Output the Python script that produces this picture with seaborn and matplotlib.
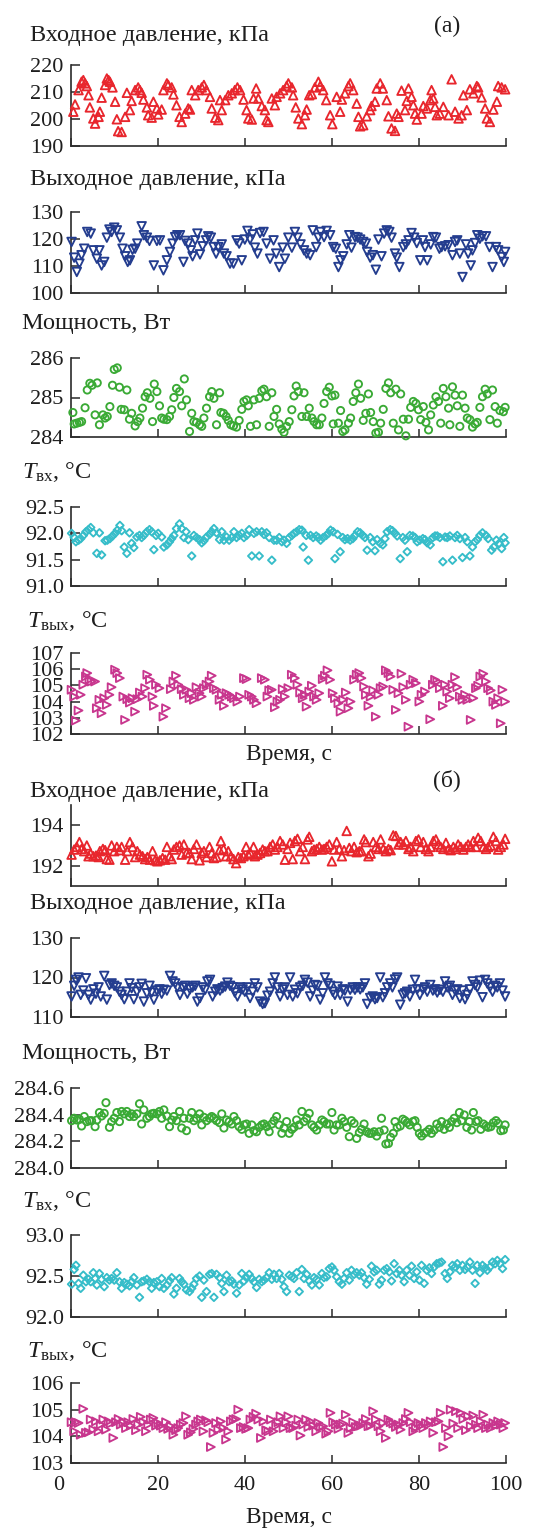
import numpy as np
import matplotlib
matplotlib.use('Agg')
import matplotlib.pyplot as plt
import matplotlib.transforms as mtrans
import seaborn as sns
import pandas as pd

sns.set_theme(style='ticks')
plt.rcParams['font.family'] = ['Liberation Serif', 'DejaVu Serif']
plt.rcParams['mathtext.fontset'] = 'custom'
plt.rcParams['mathtext.rm'] = 'Liberation Serif'
plt.rcParams['mathtext.it'] = 'Liberation Serif:italic'
plt.rcParams['mathtext.bf'] = 'Liberation Serif:bold'

# ---------------- data: (time, value) pairs ----------------
inlet_p_a = [0.6,202.7, 1.0,205.4, 1.8,210.7, 2.5,213.8, 2.9,214.4, 3.3,213.2, 3.7,212.2, 4.1,208.8, 4.4,204.3, 5.2,200.2, 5.6,198.3, 6.4,200.8, 6.7,202.7, 7.1,207.9, 7.9,212.6, 8.3,215.0, 8.7,214.4, 9.0,213.8, 9.6,211.7, 10.2,206.4, 10.6,199.9, 10.9,195.5, 11.7,195.2, 12.5,200.8, 12.9,209.7, 13.6,203.3, 14.0,206.7, 14.8,210.7, 15.5,211.7, 15.9,210.7, 16.3,209.7, 16.7,207.2, 17.5,204.3, 17.8,201.4, 18.6,200.5, 19.0,206.4, 19.8,203.9, 20.1,201.7, 20.9,203.5, 21.3,210.7, 22.1,213.2, 22.4,212.6, 23.2,211.7, 23.6,209.1, 24.3,205.1, 25.0,200.8, 25.5,198.9, 26.3,202.0, 27.0,203.9, 27.4,203.5, 27.8,210.7, 28.6,208.8, 29.3,210.7, 30.1,211.7, 30.6,212.6, 31.2,210.7, 32.0,208.2, 32.4,203.9, 33.2,200.5, 33.9,199.6, 34.3,207.0, 34.7,203.3, 35.5,207.0, 36.2,208.8, 37.0,209.5, 37.7,210.7, 38.3,211.7, 38.9,210.7, 39.7,207.2, 40.4,203.3, 40.8,200.2, 41.6,199.8, 42.0,207.6, 42.6,211.3, 43.1,207.6, 43.9,204.8, 44.6,203.3, 45.0,199.6, 45.4,198.9, 46.2,207.6, 46.9,205.1, 47.3,208.2, 48.1,209.5, 48.8,210.7, 49.6,212.2, 50.0,213.2, 50.8,211.7, 51.1,208.8, 51.7,204.3, 52.3,200.2, 53.1,198.1, 53.8,201.4, 54.2,203.5, 54.8,208.8, 55.4,209.2, 56.1,211.7, 56.9,213.8, 57.3,212.2, 58.0,210.7, 58.7,207.0, 59.6,201.4, 60.1,198.1, 61.1,208.2, 61.9,202.7, 62.3,207.2, 63.0,209.5, 63.8,212.2, 64.2,213.2, 64.9,210.7, 65.7,205.7, 66.1,200.8, 66.5,197.3, 67.2,197.7, 68.0,201.0, 68.8,203.3, 69.1,204.8, 69.9,206.4, 70.3,211.3, 71.1,213.2, 71.7,211.3, 72.6,207.0, 73.0,201.0, 73.7,196.5, 74.5,195.6, 74.9,202.0, 75.3,200.8, 76.0,210.5, 76.8,203.3, 77.2,206.7, 77.6,211.3, 78.3,208.2, 78.7,205.1, 79.1,202.0, 79.5,199.8, 80.6,202.0, 81.0,204.8, 81.8,203.9, 82.6,207.0, 82.9,210.7, 83.3,207.6, 83.7,204.5, 84.1,201.4, 84.8,202.0, 85.6,204.5, 86.8,201.4, 87.5,214.7, 88.3,202.7, 89.1,200.2, 89.8,201.4, 90.2,208.8, 91.0,203.3, 91.7,211.0, 92.5,209.5, 93.3,212.2, 93.6,211.7, 94.4,208.0, 95.2,203.9, 95.6,200.2, 96.3,198.9, 97.1,203.5, 97.9,206.4, 98.2,212.2, 99.0,211.7, 99.8,211.0]

outlet_p_a = [0.2,118.9, 0.8,113.1, 1.4,107.8, 2.0,110.9, 2.5,114.0, 3.1,116.4, 3.8,122.6, 4.6,122.0, 5.2,115.8, 6.0,112.7, 6.6,115.8, 7.1,110.2, 7.7,111.5, 8.3,120.5, 8.9,123.5, 9.4,122.6, 10.0,124.2, 10.6,123.2, 11.3,120.5, 11.9,116.4, 12.5,113.6, 13.1,111.5, 13.6,112.1, 14.2,116.0, 14.8,116.4, 15.3,118.3, 16.3,124.7, 16.8,121.4, 17.5,120.5, 18.1,119.3, 19.1,110.2, 19.8,119.3, 20.5,119.5, 21.3,108.4, 22.1,112.1, 22.8,115.2, 23.4,118.3, 24.0,120.7, 24.5,121.4, 25.1,121.4, 25.9,111.5, 26.3,119.3, 27.0,118.3, 27.6,115.8, 28.0,113.6, 28.6,119.5, 29.1,122.0, 29.7,114.3, 30.3,117.3, 31.1,119.5, 31.6,121.0, 32.2,120.5, 32.8,117.0, 33.4,114.6, 33.9,117.0, 34.7,118.0, 35.2,114.6, 35.8,113.6, 36.6,110.9, 37.4,110.9, 38.1,119.5, 38.7,118.3, 39.3,112.1, 40.0,119.8, 40.6,123.0, 41.2,119.8, 41.8,121.7, 42.3,116.8, 42.9,114.6, 43.5,122.2, 44.3,122.6, 45.0,118.3, 45.8,112.7, 46.6,119.5, 47.2,114.6, 47.9,109.6, 48.7,116.8, 49.2,112.7, 50.0,120.5, 50.8,116.8, 51.5,122.6, 52.1,120.5, 52.8,118.0, 53.6,115.8, 54.2,114.6, 55.0,114.0, 55.6,123.2, 56.4,117.0, 56.9,120.5, 57.4,122.6, 58.2,120.7, 58.8,123.0, 59.6,121.4, 60.3,117.0, 60.9,116.4, 61.5,109.6, 62.0,112.1, 62.6,113.6, 63.4,118.0, 64.0,121.4, 64.5,116.8, 65.3,120.7, 65.9,120.5, 66.5,119.8, 67.2,118.9, 67.8,118.3, 68.1,115.2, 68.8,113.1, 69.4,114.0, 70.1,108.6, 70.7,119.8, 71.4,113.6, 72.0,122.0, 72.6,123.2, 73.2,122.6, 73.7,120.5, 74.5,114.6, 74.9,113.1, 75.5,109.6, 76.4,117.0, 77.0,118.0, 77.6,119.5, 78.3,122.2, 78.9,120.5, 79.5,118.5, 80.3,112.1, 80.9,119.5, 81.4,117.0, 81.9,112.1, 82.7,118.0, 83.3,120.7, 83.9,120.5, 84.7,116.4, 85.2,117.0, 86.0,117.3, 86.8,117.7, 87.7,114.0, 88.3,118.9, 88.8,119.5, 89.4,114.6, 90.0,105.9, 90.8,118.0, 91.3,114.6, 91.9,110.2, 92.3,115.8, 92.9,118.5, 93.4,121.4, 94.0,120.1, 94.6,121.0, 95.4,121.0, 96.2,117.0, 96.9,109.6, 97.7,117.0, 98.2,115.8, 99.0,113.3, 99.5,111.5, 99.8,115.2]

power_a = [0.5,284.62, 0.8,284.33, 1.4,284.35, 2.0,284.37, 2.5,284.39, 3.3,284.74, 3.8,285.19, 4.4,285.36, 4.9,285.31, 5.6,284.56, 6.1,285.37, 6.6,284.31, 7.4,284.56, 7.9,284.48, 8.4,284.52, 9.0,284.77, 9.6,285.31, 10.0,285.71, 10.7,285.75, 11.2,285.26, 11.6,284.70, 12.3,284.69, 12.9,285.19, 13.5,284.45, 14.0,284.60, 14.8,284.28, 15.4,284.39, 15.9,284.48, 16.5,284.73, 17.1,285.02, 17.6,285.12, 18.2,284.98, 18.8,284.39, 19.2,285.34, 19.8,285.15, 20.4,284.79, 20.9,284.48, 21.4,284.45, 22.1,284.44, 22.7,284.52, 23.2,284.69, 23.7,285.00, 24.3,285.23, 25.0,285.15, 25.5,284.79, 26.1,285.47, 26.6,284.94, 27.3,284.14, 27.8,284.60, 28.3,284.39, 28.9,284.37, 29.6,284.31, 30.1,284.27, 30.6,284.48, 31.2,284.73, 31.9,285.02, 32.4,285.15, 32.9,284.98, 33.5,284.31, 34.2,285.12, 34.5,284.62, 35.1,284.60, 35.7,284.52, 36.2,284.42, 36.8,284.31, 37.4,284.28, 38.1,284.25, 38.7,284.42, 39.3,284.70, 39.8,284.90, 40.4,284.94, 40.8,284.79, 41.3,284.27, 42.1,284.94, 42.7,284.31, 43.3,284.98, 43.9,285.17, 44.4,285.21, 45.0,285.02, 45.6,284.27, 46.2,285.12, 46.7,284.52, 47.3,284.70, 47.9,284.33, 48.5,284.20, 49.0,284.12, 49.6,284.27, 50.2,284.39, 50.8,284.69, 51.3,285.04, 51.8,285.29, 52.3,285.15, 53.1,284.52, 53.6,285.12, 54.2,284.52, 54.8,284.73, 55.4,284.48, 55.9,284.39, 56.5,284.31, 57.1,284.31, 57.7,284.48, 58.2,284.85, 58.8,285.15, 59.4,285.26, 60.0,285.04, 60.3,284.33, 60.7,285.06, 61.5,284.35, 62.0,284.67, 62.5,284.14, 63.0,284.18, 63.8,284.35, 64.3,284.48, 64.9,284.90, 65.5,285.12, 66.1,285.34, 66.6,284.98, 67.2,284.42, 67.8,284.60, 68.4,285.09, 68.9,284.62, 69.5,284.39, 70.1,284.10, 70.7,284.12, 71.2,284.35, 71.8,284.70, 72.4,285.23, 73.0,285.37, 73.5,285.12, 74.1,284.35, 74.7,285.21, 75.3,284.18, 75.8,285.09, 76.4,284.45, 77.0,284.03, 77.6,284.45, 78.1,284.75, 78.7,284.90, 79.3,284.85, 79.9,284.69, 80.4,284.44, 81.0,284.77, 81.6,284.37, 82.2,284.18, 82.7,284.56, 83.3,284.81, 83.9,285.02, 84.5,284.90, 85.0,284.35, 85.6,285.23, 86.2,285.02, 86.8,284.73, 87.1,284.31, 87.7,285.27, 88.3,285.06, 88.8,284.79, 89.4,284.27, 90.0,285.06, 90.6,284.73, 91.1,284.48, 91.7,284.44, 92.3,284.25, 92.9,284.33, 93.4,284.37, 94.0,284.75, 94.6,285.02, 95.2,285.21, 95.7,285.09, 96.3,284.44, 96.9,285.19, 97.5,284.77, 98.0,284.35, 98.6,284.67, 99.4,284.64, 99.8,284.75]

t_in_a = [0.2,92.00, 0.8,91.92, 1.2,91.84, 1.8,91.87, 2.3,91.90, 2.9,91.96, 3.5,92.03, 4.1,92.07, 4.6,92.11, 5.2,92.01, 6.0,91.62, 6.6,92.01, 7.1,91.59, 7.9,91.86, 8.4,91.87, 9.0,91.90, 9.6,91.95, 10.2,92.00, 10.7,92.06, 11.3,92.15, 11.7,92.05, 12.3,91.74, 12.9,91.62, 13.5,92.01, 14.0,91.81, 14.5,91.73, 15.2,91.93, 15.8,91.96, 16.3,91.92, 16.8,91.96, 17.5,92.03, 18.1,92.07, 18.6,92.03, 19.1,91.69, 19.6,91.96, 20.1,92.00, 20.9,91.93, 21.4,91.74, 22.1,91.78, 22.7,91.84, 23.2,91.90, 23.7,91.96, 24.3,92.09, 25.0,92.18, 25.5,92.09, 26.0,91.92, 26.5,92.03, 27.0,91.88, 27.8,91.57, 28.3,91.96, 28.9,91.92, 29.6,91.88, 30.1,91.82, 30.6,91.86, 31.2,91.93, 31.9,91.98, 32.4,92.03, 32.9,92.09, 33.5,92.01, 34.2,91.88, 34.7,92.03, 35.2,91.87, 35.8,91.93, 36.4,91.87, 37.0,91.92, 37.5,92.03, 38.1,91.92, 38.7,91.96, 39.3,92.00, 39.8,91.92, 40.4,91.96, 41.0,92.07, 41.6,91.57, 42.1,92.00, 42.7,92.03, 43.3,91.57, 43.9,92.03, 44.4,91.98, 45.0,92.01, 45.6,91.92, 46.2,91.49, 46.7,91.87, 47.3,91.87, 47.9,91.92, 48.5,91.84, 49.0,91.87, 49.6,91.81, 50.2,91.92, 50.8,91.96, 51.3,92.00, 51.9,92.03, 52.5,92.07, 53.1,92.06, 53.4,91.74, 54.1,91.96, 54.6,91.49, 55.1,91.96, 55.7,91.92, 56.4,91.95, 56.9,91.92, 57.4,91.87, 58.0,91.92, 58.7,91.96, 59.2,92.00, 59.7,92.06, 60.3,92.03, 60.7,91.52, 61.3,91.98, 61.9,91.65, 62.5,91.92, 63.0,91.88, 63.6,91.90, 64.2,91.87, 64.8,91.90, 65.3,91.96, 65.9,92.03, 66.5,92.01, 67.1,91.96, 67.6,91.92, 68.1,91.68, 68.8,91.92, 69.4,91.84, 69.9,91.67, 70.4,91.88, 71.1,91.81, 71.7,91.78, 72.2,91.90, 72.7,92.03, 73.4,92.07, 73.9,92.05, 74.5,92.00, 75.0,91.95, 75.7,91.52, 76.3,91.92, 76.8,91.87, 77.3,91.65, 77.9,91.96, 78.6,91.95, 79.1,91.92, 79.6,91.84, 80.2,91.87, 80.9,91.90, 81.4,91.88, 81.9,91.82, 82.6,91.78, 83.2,91.92, 83.7,91.95, 84.2,91.95, 84.8,91.92, 85.5,91.46, 86.0,91.93, 86.5,91.92, 87.1,91.95, 87.7,91.49, 88.3,91.92, 88.8,91.96, 89.4,91.90, 90.0,91.54, 90.6,91.92, 91.1,91.84, 91.7,91.57, 92.3,91.74, 92.9,91.84, 93.4,91.88, 94.0,91.96, 94.6,92.01, 95.4,91.96, 95.9,91.90, 96.7,91.68, 97.2,91.74, 97.8,91.87, 98.4,91.81, 99.0,91.71, 99.5,91.92, 99.8,91.82]

t_out_a = [0.2,104.73, 0.8,104.31, 1.2,102.83, 1.8,103.45, 2.3,104.42, 2.9,105.04, 3.5,105.55, 3.8,105.76, 4.3,105.35, 4.8,105.24, 5.6,105.24, 6.0,103.59, 6.6,104.11, 7.1,103.28, 7.7,104.21, 8.3,103.80, 8.9,104.42, 9.4,104.89, 10.2,105.97, 10.7,105.76, 11.3,105.45, 12.1,104.31, 12.5,102.87, 13.0,104.15, 13.6,103.94, 14.2,104.21, 14.8,103.38, 15.3,104.15, 15.9,104.56, 16.5,104.31, 17.1,104.83, 17.6,105.66, 18.2,105.35, 18.8,104.31, 19.1,103.74, 19.6,105.04, 20.4,104.83, 21.3,103.07, 21.9,103.59, 23.0,104.77, 23.6,105.24, 24.2,105.60, 24.7,105.04, 25.5,104.77, 26.0,104.42, 26.6,104.73, 27.3,104.21, 27.8,104.52, 28.3,104.11, 28.9,104.89, 29.6,104.52, 30.1,104.31, 30.6,104.83, 31.2,105.04, 31.9,105.24, 32.4,105.60, 32.9,104.83, 33.5,104.73, 34.2,104.11, 34.7,104.42, 35.2,103.74, 35.8,104.52, 36.4,104.42, 37.0,104.31, 37.5,104.21, 38.3,104.00, 38.9,104.31, 39.8,105.45, 40.4,105.39, 41.0,104.42, 41.6,104.31, 42.1,104.11, 42.7,103.90, 43.9,105.45, 44.6,105.35, 45.2,104.31, 45.6,104.69, 46.2,104.73, 46.9,103.65, 47.5,104.00, 48.1,104.11, 48.7,104.77, 49.2,104.31, 50.0,104.83, 50.8,105.66, 51.5,105.45, 52.1,105.04, 52.7,104.56, 53.3,104.21, 53.8,104.42, 54.2,103.69, 54.8,104.62, 55.4,104.98, 55.9,104.31, 56.5,104.11, 57.1,104.52, 57.9,105.39, 58.4,105.60, 59.0,105.93, 59.6,105.35, 60.2,104.52, 60.7,104.21, 61.5,103.90, 62.0,103.38, 62.6,104.11, 63.2,104.56, 63.8,103.59, 64.3,104.00, 65.1,105.35, 65.7,105.66, 66.3,105.76, 66.8,105.45, 67.4,104.93, 67.8,104.42, 68.4,103.74, 68.9,104.31, 69.5,104.69, 70.1,103.07, 70.7,104.42, 71.2,104.83, 71.8,104.93, 72.4,105.93, 73.0,105.76, 73.5,105.55, 74.1,104.73, 74.7,103.49, 75.3,104.52, 76.0,105.72, 76.4,104.89, 77.0,104.11, 77.6,102.45, 78.1,105.04, 78.7,105.35, 79.3,105.14, 80.1,104.00, 80.6,104.42, 81.4,104.62, 82.6,102.91, 83.2,105.04, 83.7,105.35, 84.2,105.24, 84.8,104.83, 85.5,103.74, 86.0,105.04, 86.5,104.62, 87.1,104.21, 87.7,105.04, 88.3,105.51, 88.8,104.89, 89.4,104.31, 90.0,104.11, 90.6,104.42, 91.1,104.11, 91.9,102.87, 92.5,104.21, 93.1,104.83, 93.6,104.98, 94.1,105.55, 94.8,105.72, 95.4,105.24, 95.9,104.83, 96.5,104.69, 97.1,104.00, 97.7,103.80, 98.2,104.21, 98.8,102.66, 99.2,104.73, 99.8,104.00]

inlet_p_b = [0.2,192.55, 0.8,192.80, 1.4,192.93, 2.0,193.17, 2.5,192.83, 3.1,192.72, 3.7,193.00, 4.1,192.47, 4.6,192.60, 5.2,192.47, 5.8,192.50, 6.4,192.43, 6.7,192.72, 7.4,192.83, 7.9,192.77, 8.3,192.33, 8.9,192.30, 9.4,193.00, 10.0,192.72, 10.6,192.93, 11.2,192.77, 11.7,192.93, 12.5,192.30, 13.0,192.72, 13.6,193.17, 14.2,192.93, 14.8,192.43, 15.3,192.72, 15.9,192.55, 16.5,192.47, 17.1,192.33, 17.6,192.43, 18.2,192.30, 18.8,192.72, 19.4,192.27, 19.9,192.22, 20.5,192.27, 21.1,192.38, 21.7,192.30, 22.1,192.93, 22.7,192.47, 23.2,192.33, 23.7,192.80, 24.3,192.93, 25.0,193.00, 25.5,192.55, 26.0,193.05, 26.6,192.63, 27.3,192.63, 27.8,192.33, 28.3,192.83, 28.9,193.05, 29.6,192.27, 30.1,192.63, 30.6,192.72, 31.2,192.43, 31.9,192.93, 32.4,192.63, 32.9,192.38, 33.5,192.43, 34.2,192.77, 34.5,193.22, 35.1,192.83, 35.7,192.47, 36.2,192.72, 36.8,192.47, 37.4,192.33, 38.0,192.13, 38.5,192.43, 39.1,192.38, 39.7,192.47, 40.3,192.93, 40.8,192.55, 41.3,192.63, 42.0,192.93, 42.3,192.47, 42.9,192.55, 43.5,192.63, 44.1,192.80, 44.6,192.72, 45.2,192.72, 45.8,192.93, 46.4,193.05, 46.9,192.80, 47.5,192.93, 48.1,193.22, 48.7,193.05, 49.2,192.30, 49.8,192.83, 50.4,193.13, 51.0,192.33, 51.5,193.22, 52.1,193.33, 52.7,192.72, 53.3,192.93, 53.8,192.33, 54.4,193.30, 54.8,193.43, 55.4,192.72, 55.9,192.80, 56.5,192.83, 57.1,192.93, 57.7,192.80, 58.2,192.83, 58.8,192.93, 59.4,193.05, 60.0,192.22, 60.5,192.80, 61.1,193.17, 61.7,192.83, 62.3,192.47, 62.8,192.77, 63.4,193.72, 64.0,192.88, 64.5,192.72, 65.1,192.93, 65.7,192.67, 66.3,192.72, 66.8,192.72, 67.4,193.30, 67.8,193.17, 68.4,192.47, 68.9,192.60, 69.5,193.17, 70.1,192.93, 70.7,192.83, 71.2,193.30, 71.8,192.83, 72.4,192.72, 73.0,192.83, 73.5,192.77, 74.1,193.50, 74.7,193.47, 75.3,193.05, 75.8,193.17, 76.4,193.05, 77.0,193.22, 77.6,192.83, 78.1,192.93, 78.7,192.72, 79.3,193.22, 79.9,193.30, 80.4,192.93, 81.0,193.17, 81.6,192.83, 82.2,192.72, 82.7,192.93, 83.3,193.22, 83.9,193.30, 84.5,193.05, 85.0,192.93, 85.6,192.83, 86.2,193.13, 86.8,192.83, 87.3,192.77, 87.9,192.93, 88.5,192.83, 89.0,193.05, 89.6,192.93, 90.2,192.80, 90.8,192.93, 91.3,193.05, 91.9,192.93, 92.5,193.22, 93.1,192.93, 93.6,193.38, 94.2,193.22, 94.8,192.93, 95.4,192.83, 95.9,192.93, 96.5,193.00, 97.1,193.43, 97.7,193.22, 98.2,192.80, 98.8,192.93, 99.4,193.05, 99.8,193.33]

outlet_p_b = [0.2,115.2, 0.8,117.9, 1.2,119.4, 1.8,120.0, 2.3,115.6, 2.9,116.7, 3.5,119.8, 4.1,115.6, 4.6,114.4, 5.2,117.0, 5.8,115.9, 6.4,117.5, 6.9,115.2, 7.7,120.4, 8.3,114.4, 8.9,118.1, 9.4,118.5, 10.0,117.9, 10.6,117.5, 11.2,116.4, 11.7,115.6, 12.3,114.5, 12.9,116.4, 13.5,118.5, 14.0,117.3, 14.5,114.5, 15.2,116.4, 15.8,117.5, 16.3,118.4, 16.8,113.9, 17.5,116.0, 18.1,117.9, 18.6,116.2, 19.1,114.4, 19.8,116.7, 20.4,117.0, 20.9,115.9, 21.4,116.9, 22.1,116.7, 22.8,120.4, 23.4,119.0, 24.0,118.5, 24.5,117.5, 25.1,115.6, 25.7,117.5, 26.3,117.9, 26.8,115.9, 27.4,117.0, 28.0,117.5, 28.6,117.9, 29.1,113.9, 29.7,114.8, 30.3,117.5, 30.9,116.9, 31.4,119.0, 32.0,119.4, 32.6,115.2, 33.2,116.4, 33.7,117.0, 34.3,116.7, 34.9,117.3, 35.5,117.7, 36.0,118.7, 36.6,117.9, 37.2,117.5, 37.7,116.2, 38.3,115.2, 38.9,117.5, 39.5,117.0, 40.0,116.4, 40.6,117.5, 41.2,114.8, 41.8,116.4, 42.3,118.5, 42.9,117.5, 43.5,113.9, 44.1,113.3, 44.6,113.5, 45.2,115.4, 45.8,116.4, 46.4,118.5, 46.9,120.0, 47.5,117.5, 48.1,115.2, 48.7,117.0, 49.2,117.5, 49.8,115.6, 50.4,120.0, 51.0,115.2, 51.5,116.9, 52.1,116.0, 52.7,117.5, 53.3,117.9, 53.8,119.4, 54.4,118.7, 55.0,115.2, 55.6,116.7, 56.1,118.1, 56.7,117.9, 57.3,114.4, 57.9,116.0, 58.4,120.0, 59.0,118.5, 59.6,117.9, 60.2,116.4, 60.7,115.6, 61.3,117.7, 61.9,115.6, 62.5,117.0, 63.0,116.7, 63.6,113.9, 64.2,116.9, 64.8,117.5, 65.3,116.9, 65.9,117.5, 66.5,117.0, 67.1,117.5, 67.6,118.5, 68.1,113.3, 68.8,114.8, 69.4,115.2, 69.9,114.5, 70.4,114.8, 71.1,120.0, 71.7,115.0, 72.2,116.0, 72.7,117.5, 73.4,118.5, 73.9,117.5, 74.5,119.5, 75.0,120.0, 75.7,113.1, 76.3,115.6, 76.8,116.0, 77.3,116.4, 77.9,115.2, 78.6,116.9, 79.1,119.4, 79.6,117.0, 80.2,115.6, 80.9,117.0, 81.4,117.5, 81.9,116.4, 82.6,118.1, 83.2,116.7, 83.7,117.0, 84.2,116.2, 84.8,116.9, 85.5,116.4, 86.0,119.0, 86.5,117.5, 87.1,117.9, 87.7,115.6, 88.3,116.7, 88.8,117.0, 89.4,114.8, 90.0,116.7, 90.6,114.5, 91.1,115.6, 91.7,117.0, 92.3,119.0, 92.9,118.1, 93.4,117.5, 94.0,119.2, 94.6,115.0, 95.2,119.4, 95.7,118.5, 96.3,117.5, 96.9,116.4, 97.5,117.9, 98.0,117.5, 98.6,118.5, 99.2,116.7, 99.8,115.2]

power_b = [0.2,284.355, 0.8,284.373, 1.4,284.360, 2.0,284.366, 2.5,284.315, 3.1,284.386, 3.7,284.348, 4.3,284.355, 4.8,284.355, 5.6,284.310, 6.0,284.360, 6.6,284.416, 7.1,284.390, 7.7,284.410, 8.1,284.490, 8.9,284.305, 9.4,284.348, 10.0,284.373, 10.6,284.416, 11.2,284.348, 11.7,284.424, 12.3,284.406, 12.9,284.424, 13.5,284.386, 14.0,284.406, 14.5,284.386, 15.2,284.406, 15.8,284.482, 16.3,284.330, 16.8,284.436, 17.5,284.373, 18.1,284.386, 18.6,284.406, 19.1,284.410, 19.8,284.406, 20.4,284.424, 20.9,284.373, 21.4,284.436, 22.1,284.390, 22.7,284.310, 23.2,284.360, 23.7,284.386, 24.3,284.355, 25.0,284.424, 25.5,284.300, 26.0,284.373, 26.6,284.280, 27.3,284.373, 27.8,284.416, 28.3,284.355, 28.9,284.373, 29.6,284.406, 30.1,284.323, 30.6,284.380, 31.2,284.355, 31.9,284.373, 32.4,284.386, 32.9,284.373, 33.5,284.355, 34.2,284.340, 34.7,284.406, 35.2,284.300, 35.8,284.360, 36.4,284.348, 37.0,284.330, 37.5,284.386, 38.1,284.355, 38.7,284.310, 39.3,284.290, 39.8,284.323, 40.4,284.330, 41.0,284.260, 41.6,284.323, 42.1,284.280, 42.7,284.272, 43.3,284.305, 43.9,284.323, 44.4,284.330, 45.0,284.310, 45.6,284.272, 46.2,284.330, 46.7,284.355, 47.3,284.386, 47.9,284.323, 48.5,284.260, 49.0,284.300, 49.6,284.348, 50.2,284.260, 50.8,284.290, 51.3,284.305, 51.9,284.360, 52.5,284.323, 53.1,284.424, 53.6,284.348, 54.2,284.373, 54.8,284.410, 55.4,284.323, 55.9,284.305, 56.5,284.285, 57.1,284.323, 57.7,284.360, 58.2,284.348, 58.8,284.330, 59.4,284.330, 60.0,284.416, 60.5,284.285, 61.1,284.323, 61.7,284.323, 62.3,284.373, 62.8,284.348, 63.4,284.305, 64.0,284.235, 64.5,284.355, 65.1,284.335, 65.7,284.222, 66.3,284.265, 66.8,284.290, 67.4,284.330, 68.0,284.272, 68.6,284.260, 69.1,284.260, 69.7,284.272, 70.3,284.240, 70.9,284.272, 71.4,284.373, 72.0,284.285, 72.4,284.180, 73.0,284.184, 73.5,284.230, 74.1,284.260, 74.5,284.348, 75.0,284.305, 75.7,284.315, 76.3,284.366, 76.8,284.355, 77.3,284.340, 77.9,284.323, 78.6,284.348, 79.1,284.355, 79.6,284.305, 80.1,284.260, 80.6,284.240, 81.2,284.260, 81.8,284.272, 82.4,284.290, 82.9,284.260, 83.5,284.285, 84.1,284.330, 84.7,284.305, 85.2,284.348, 85.8,284.290, 86.4,284.330, 87.0,284.305, 87.5,284.348, 88.1,284.373, 88.7,284.340, 89.3,284.416, 89.8,284.355, 90.4,284.398, 91.0,284.305, 91.6,284.348, 92.1,284.285, 92.5,284.416, 93.1,284.348, 93.6,284.355, 94.2,284.290, 94.8,284.330, 95.4,284.315, 95.9,284.305, 96.5,284.310, 97.1,284.340, 97.7,284.355, 98.2,284.335, 98.8,284.280, 99.4,284.285, 99.8,284.323]

t_in_b = [0.2,92.40, 0.8,92.58, 1.2,92.63, 1.8,92.41, 2.3,92.35, 2.9,92.51, 3.5,92.43, 4.1,92.46, 4.6,92.43, 5.2,92.54, 5.6,92.47, 6.0,92.39, 6.6,92.53, 7.1,92.46, 7.7,92.37, 8.3,92.48, 8.9,92.45, 9.4,92.47, 10.0,92.45, 10.6,92.54, 11.2,92.43, 11.7,92.35, 12.3,92.42, 12.9,92.40, 13.5,92.38, 14.0,92.43, 14.5,92.48, 15.2,92.39, 15.8,92.24, 16.3,92.43, 16.8,92.44, 17.5,92.46, 18.1,92.43, 18.6,92.35, 19.1,92.42, 19.8,92.43, 20.4,92.37, 20.9,92.47, 21.4,92.35, 22.1,92.39, 22.7,92.44, 23.2,92.48, 23.7,92.28, 24.3,92.35, 25.0,92.47, 25.5,92.43, 26.0,92.40, 26.6,92.33, 27.3,92.31, 27.8,92.35, 28.3,92.40, 28.9,92.47, 29.6,92.50, 30.1,92.24, 30.6,92.45, 31.2,92.31, 31.9,92.52, 32.4,92.53, 32.9,92.24, 33.5,92.52, 34.2,92.48, 34.7,92.41, 35.2,92.31, 35.8,92.51, 36.4,92.43, 37.0,92.44, 37.5,92.40, 38.1,92.29, 38.7,92.39, 39.3,92.53, 39.8,92.44, 40.4,92.48, 41.0,92.52, 41.6,92.47, 42.1,92.43, 42.7,92.36, 43.3,92.46, 43.9,92.43, 44.4,92.45, 45.0,92.48, 45.6,92.54, 46.2,92.46, 46.7,92.52, 47.3,92.47, 47.9,92.53, 48.5,92.46, 49.0,92.37, 49.6,92.31, 50.2,92.51, 50.8,92.49, 51.3,92.47, 51.9,92.54, 52.5,92.31, 53.1,92.58, 53.6,92.47, 54.2,92.52, 54.8,92.44, 55.4,92.39, 55.9,92.48, 56.5,92.46, 57.1,92.39, 57.7,92.53, 58.2,92.48, 58.8,92.49, 59.4,92.59, 60.0,92.61, 60.5,92.57, 61.1,92.49, 61.7,92.43, 62.3,92.40, 62.8,92.47, 63.4,92.54, 64.0,92.45, 64.5,92.57, 65.1,92.52, 65.7,92.54, 66.3,92.51, 66.8,92.54, 67.4,92.48, 68.0,92.40, 68.6,92.46, 69.1,92.62, 69.7,92.55, 70.3,92.57, 70.9,92.40, 71.4,92.45, 72.0,92.57, 72.6,92.59, 73.2,92.55, 73.7,92.44, 74.3,92.65, 74.9,92.53, 75.5,92.57, 76.0,92.51, 76.6,92.43, 77.2,92.57, 77.8,92.51, 78.3,92.62, 78.9,92.47, 79.5,92.55, 80.1,92.45, 80.6,92.63, 81.2,92.41, 81.8,92.57, 82.4,92.60, 82.9,92.53, 83.5,92.61, 84.1,92.65, 84.7,92.66, 85.2,92.67, 86.0,92.53, 86.5,92.47, 87.1,92.55, 87.7,92.63, 88.3,92.61, 88.8,92.65, 89.4,92.57, 90.0,92.63, 90.6,92.58, 91.1,92.61, 91.7,92.67, 92.3,92.57, 92.9,92.41, 93.4,92.63, 94.0,92.54, 94.6,92.63, 95.2,92.60, 95.7,92.57, 96.3,92.61, 96.9,92.67, 97.5,92.65, 98.0,92.69, 98.6,92.65, 99.2,92.59, 99.8,92.70]

t_out_b = [0.2,104.53, 0.8,104.19, 1.2,104.53, 1.8,104.50, 2.3,104.06, 2.9,105.03, 3.5,104.13, 4.1,104.15, 4.6,104.63, 5.2,104.25, 5.8,104.56, 6.4,104.19, 6.9,104.44, 7.5,104.63, 8.1,104.25, 8.7,104.56, 9.2,104.48, 9.8,103.94, 10.4,104.53, 11.0,104.65, 11.5,104.44, 12.1,104.53, 12.7,104.31, 13.2,104.53, 13.8,104.40, 14.4,104.65, 15.0,104.23, 15.5,104.44, 16.1,104.73, 16.7,104.53, 17.3,104.19, 17.8,104.44, 18.4,104.63, 19.0,104.69, 19.6,104.40, 20.1,104.50, 20.7,104.40, 21.3,104.31, 21.9,104.53, 22.4,104.28, 23.0,104.38, 23.6,104.06, 24.2,104.23, 24.7,104.31, 25.3,104.44, 25.9,104.50, 26.5,104.75, 27.0,104.06, 27.6,104.15, 28.2,104.28, 28.8,104.44, 29.3,104.56, 29.9,104.63, 30.5,104.19, 31.1,104.60, 31.6,104.53, 32.2,103.60, 32.8,104.13, 33.4,104.50, 33.9,104.25, 34.5,104.56, 35.1,104.31, 35.7,103.88, 36.2,104.19, 36.8,104.56, 37.4,104.63, 38.0,104.65, 38.5,105.00, 39.1,104.31, 39.7,104.35, 40.3,104.28, 40.8,104.31, 41.3,104.63, 42.0,104.73, 42.6,104.85, 43.1,104.63, 43.7,103.94, 44.3,104.56, 44.9,104.23, 45.4,104.19, 46.0,104.63, 46.6,104.19, 47.2,104.40, 47.7,104.53, 48.2,104.75, 48.9,104.31, 49.5,104.53, 50.0,104.75, 50.5,104.31, 51.1,104.31, 51.8,104.40, 52.3,104.63, 52.8,104.03, 53.4,104.44, 54.1,104.63, 54.6,104.35, 55.1,104.56, 55.7,104.40, 56.4,104.19, 56.9,104.50, 57.4,104.35, 58.0,104.38, 58.7,104.10, 59.2,104.19, 59.7,104.88, 60.3,104.53, 60.9,104.44, 61.5,104.28, 62.0,104.44, 62.6,104.48, 63.2,104.81, 63.8,104.13, 64.3,104.31, 64.9,104.53, 65.5,104.35, 66.1,104.38, 66.6,104.40, 67.2,104.50, 67.8,104.65, 68.4,104.38, 68.9,104.40, 69.5,104.94, 70.1,104.63, 70.7,104.38, 71.2,104.19, 71.8,104.50, 72.4,103.94, 73.0,104.63, 73.5,104.53, 74.1,104.48, 74.7,104.35, 75.3,104.44, 75.8,104.25, 76.4,104.50, 77.0,104.65, 77.6,104.88, 78.1,104.53, 78.7,104.19, 79.3,104.31, 79.9,104.50, 80.4,104.40, 81.0,104.31, 81.6,104.50, 82.2,104.44, 82.7,104.56, 83.3,104.13, 83.9,104.53, 84.5,104.56, 85.0,104.88, 85.6,103.60, 86.2,104.31, 86.8,104.00, 87.3,105.00, 87.9,104.48, 88.5,104.94, 89.0,104.31, 89.6,104.88, 90.2,104.65, 90.8,104.23, 91.3,104.75, 91.9,104.38, 92.5,104.78, 93.1,104.44, 93.6,104.31, 94.2,104.56, 94.8,104.81, 95.4,104.31, 95.9,104.44, 96.5,104.31, 97.1,104.50, 97.7,104.40, 98.2,104.56, 98.8,104.44, 99.4,104.31, 99.8,104.50]

x_ticks = [0, 20, 40, 60, 80, 100]
titles = ['Входное давление, кПа', 'Выходное давление, кПа', 'Мощность, Вт',
          r'$T_{\mathrm{вх}}$, °C', r'$T_{\mathrm{вых}}$, °C']
time_label = 'Время, с'

# ---------------- style ----------------
RED, BLUE, GREEN, CYAN, MAG = '#e8262d', '#243d8f', '#3aaa35', '#36bdc9', '#c8368e'
W, H = 543, 1532
fig = plt.figure(figsize=(W / 100, H / 100), dpi=100)

def fx(px):
    return px / W

def fy(px):
    return 1 - px / H

LEFT, RIGHT = 70.7, 506.0
panels = [
    # data, marker, colour, size, ylim, yticks, fmt, (top, bottom) px, title idx, title y px, title x px
    (inlet_p_a, '^', RED, 38, (190, 220), [190, 200, 210, 220], '{:.0f}', (65, 146), 0, 36, 30),
    (outlet_p_a, 'v', BLUE, 38, (100, 130), [100, 110, 120, 130], '{:.0f}', (212, 293), 1, 180, 30),
    (power_a, 'o', GREEN, 27, (284, 286), [284, 285, 286], '{:.0f}', (358, 437), 2, 324, 22),
    (t_in_a, 'D', CYAN, 15, (91.0, 92.5), [91.0, 91.5, 92.0, 92.5], '{:.1f}', (507, 586), 3, 472, 22),
    (t_out_a, '>', MAG, 32, (102, 107), [102, 103, 104, 105, 106, 107], '{:.0f}', (653, 734), 4, 621, 27),
    (inlet_p_b, '^', RED, 38, (191, 195), [192, 194], '{:.0f}', (805, 886), 0, 792, 30),
    (outlet_p_b, 'v', BLUE, 38, (110, 130), [110, 120, 130], '{:.0f}', (938, 1017), 1, 903, 30),
    (power_b, 'o', GREEN, 27, (284.0, 284.6), [284.0, 284.2, 284.4, 284.6], '{:.1f}', (1088, 1168), 2, 1054, 22),
    (t_in_b, 'D', CYAN, 15, (92.0, 93.0), [92.0, 92.5, 93.0], '{:.1f}', (1235, 1317), 3, 1201, 22),
    (t_out_b, '>', MAG, 32, (103, 106), [103, 104, 105, 106], '{:.0f}', (1383, 1463), 4, 1351, 27),
]

SPINE = '#2a2a2a'
TXT = '#1e1e1e'
for i, (data, mk, col, s, ylim, yt, fmt, (top, bot), ti, ty, tx) in enumerate(panels):
    arr = np.asarray(data, dtype=float).reshape(-1, 2)
    df = pd.DataFrame({'t': arr[:, 0], 'v': arr[:, 1]})
    ax = fig.add_axes([fx(LEFT), fy(bot), fx(RIGHT) - fx(LEFT), (bot - top) / H])
    sns.scatterplot(data=df, x='t', y='v', ax=ax, marker=mk, s=s, color=col,
                    facecolor='none', edgecolor=col, linewidth=1.35, clip_on=False, zorder=3)
    ax.set_xlim(0, 100)
    ax.set_ylim(*ylim)
    ax.set_xticks(x_ticks)
    ax.set_yticks(yt)
    ax.set_yticklabels([fmt.format(v) for v in yt])
    ax.set_xlabel('')
    ax.set_ylabel('')
    for side in ('top', 'right'):
        ax.spines[side].set_visible(False)
    for side in ('left', 'bottom'):
        ax.spines[side].set_color(SPINE)
        ax.spines[side].set_linewidth(1.2)
    ax.tick_params(axis='y', direction='in', length=6.5, width=1.1, pad=5,
                   labelsize=16, color=SPINE, labelcolor=TXT)
    ax.tick_params(axis='x', direction='in', length=5.5, width=1.1, pad=9,
                   labelsize=16, color=SPINE, labelcolor=TXT)
    if i < 9:
        ax.set_xticklabels([])
    else:
        ax.set_xticklabels([str(v) for v in x_ticks])
        lab0 = ax.xaxis.get_major_ticks()[0].label1
        lab0.set_transform(lab0.get_transform() +
                           mtrans.ScaledTranslation(-12 / 100, 0, fig.dpi_scale_trans))
    fig.text(fx(tx), fy(ty), titles[ti], ha='left', va='center', fontsize=17.5, color=TXT)

fig.text(fx(447), fy(26), '(а)', ha='center', va='center', fontsize=17, color=TXT)
fig.text(fx(447), fy(780), '(б)', ha='center', va='center', fontsize=17, color=TXT)
fig.text(fx(289), fy(754), time_label, ha='center', va='center', fontsize=17, color=TXT)
fig.text(fx(289), fy(1517), time_label, ha='center', va='center', fontsize=17, color=TXT)

fig.savefig('out.png', dpi=100)
